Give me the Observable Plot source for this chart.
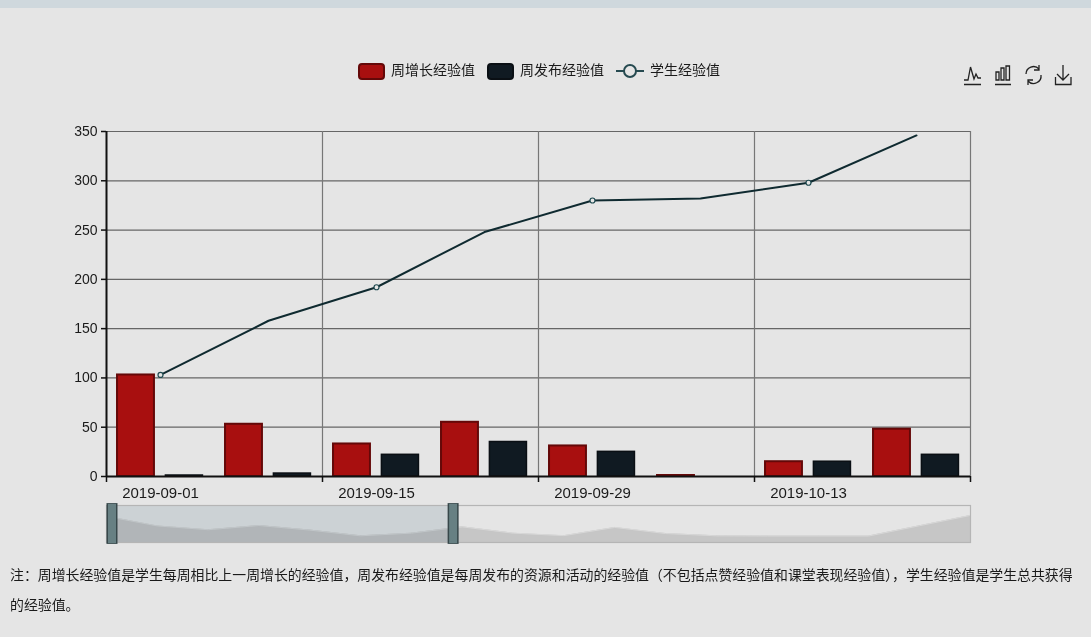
<!DOCTYPE html>
<html><head><meta charset="utf-8">
<script src="https://cdn.jsdelivr.net/npm/d3@7"></script>
<script src="https://cdn.jsdelivr.net/npm/@observablehq/plot@0.6"></script>
<style>
html,body{margin:0;padding:0;background:#e5e5e5;overflow:hidden}
body{width:1091px;height:637px;position:relative;font-family:"Liberation Sans","Noto Sans CJK SC",sans-serif;color:#1a1a1a}
#strip{position:absolute;left:0;top:0;width:1091px;height:8px;background:#cfd8dd}
#main,#slider{position:absolute;left:0}
#main{top:0}#slider{top:500px}
svg{background:transparent!important;display:block}
.lg{position:absolute;top:61px;font-size:14px;line-height:18px;white-space:nowrap}
.sw{position:absolute;top:63px;width:27px;height:17px;border-radius:4px;box-sizing:border-box}
#note{position:absolute;left:10px;top:559px;width:1068px;font-size:13.9px;line-height:30px;font-family:"Noto Sans CJK SC",sans-serif;color:#1a1a1a}
#tools{position:absolute;left:960px;top:60px}
</style></head><body>
<div id="strip"></div>
<div class="sw" style="left:358px;background:#a80f0f;border:2px solid #640808"></div>
<div class="lg" style="left:391px">周增长经验值</div>
<div class="sw" style="left:487px;background:#101a22;border:2px solid #0a0f14"></div>
<div class="lg" style="left:520px">周发布经验值</div>
<svg style="position:absolute;left:614px;top:62px" width="32" height="18"><path d="M2 9H30" stroke="#264a50" stroke-width="2"/><circle cx="16" cy="9" r="6" fill="#e5e5e5" stroke="#264a50" stroke-width="2"/></svg>
<div class="lg" style="left:650px">学生经验值</div>
<svg id="tools" width="116" height="30" fill="none" stroke="#222" stroke-width="1.3">
<path d="M4 24.5H21M4 20H8L10.5 7L14 19L16 14L18 18H21"/>
<path d="M35 24.5H51M36 20V12H39V20ZM41 20V8H44V20ZM46 20V6H49.5V20Z"/>
<path d="M66 14A7.5 7.5 0 0 1 79 9M81 15A7.5 7.5 0 0 1 68 21M79 5V10H74M68 25V20H73"/>
<path d="M103 5V20M97 14L103 20L109 14M95.500 17V24.500H111V17"/>
</svg>
<div id="main"></div>
<div id="slider"></div>
<div id="note">注&#xFF1A;周增长经验值是学生每周相比上一周增长的经验值&#xFF0C;周发布经验值是每周发布的资源和活动的经验值&#xFF08;不包括点赞经验值和课堂表现经验值&#xFF09;&#xFF0C;学生经验值是学生总共获得的经验值&#x3002;</div>
<script>
const weeks = ["2019-09-01","2019-09-08","2019-09-15","2019-09-22","2019-09-29","2019-10-06","2019-10-13","2019-10-20"];
const weeklyGrowth = [103,53,33,55,31,1,15,48];
const weeklyPublished = [1,3,22,35,25,0,15,22];
const studentExp = [103,158,192,248,280,282,298,346];
const yTicks = [0,50,100,150,200,250,300,350];
const bandTicks = [0,2,4,6,8];
const labelledWeeks = [0,2,4,6];
const symbolWeeks = [0,2,4,6];
const overviewValues = [103,53,33,55,31,1,15,48,15,2,45,13,1,0,0,0,54,108];
const selection = [0.108,6.82];

const idx = weeks.map((_, i) => i);
const font = '"Liberation Sans","Noto Sans CJK SC",sans-serif';

const main = Plot.plot({
  width:1091,height:505,marginLeft:106,marginRight:121,marginTop:131,marginBottom:29,
  style:{background:"transparent",fontFamily:font,fontSize:"14px",color:"#1a1a1a"},
  x:{domain:[0,8],axis:null},
  y:{domain:[0,350],axis:null},
  marks:[
    Plot.ruleY(yTicks.slice(1),{stroke:"#666",strokeWidth:1.2}),
    Plot.ruleX(bandTicks.slice(1),{stroke:"#777",strokeWidth:1.2}),
    Plot.rectY(idx,{x1:i=>i+0.102,x2:i=>i+0.444,y1:0,y2:i=>weeklyGrowth[i],fill:"#a80f0f",stroke:"#640808",strokeWidth:2}),
    Plot.rectY(idx,{x1:i=>i+0.55,x2:i=>i+0.893,y1:0,y2:i=>weeklyPublished[i],fill:"#101a22",stroke:"#0a0f14",strokeWidth:1.5}),
    Plot.line(idx,{x:i=>i+0.5,y:i=>studentExp[i],stroke:"#0f2a30",strokeWidth:2}),
    Plot.dot(symbolWeeks,{x:i=>i+0.5,y:i=>studentExp[i],r:2.5,fill:"#e5e5e5",stroke:"#1f4a50",strokeWidth:1.2}),
    Plot.axisY({ticks:yTicks,tickSize:5,tickPadding:4,fontSize:14,stroke:"#111",strokeWidth:1.5,fill:"#1a1a1a",label:null}),
    Plot.ruleX([0],{stroke:"#111",strokeWidth:2}),
    Plot.axisX({ticks:bandTicks,tickSize:6,tickFormat:()=>"",stroke:"#111",strokeWidth:1.5,label:null}),
    Plot.axisX({ticks:labelledWeeks.map(i=>i+0.5),tickSize:0,tickPadding:11,tickFormat:d=>weeks[d-0.5],fontSize:15,fill:"#1a1a1a",label:null}),
    Plot.ruleY([0],{stroke:"#111",strokeWidth:2})
  ]
});
document.getElementById("main").append(main);

const oIdx = overviewValues.map((_, i) => i);
const slider = Plot.plot({
  width:1091,height:46,marginLeft:106,marginRight:121,marginTop:5,marginBottom:4,
  style:{background:"transparent"},
  x:{domain:[0,17],axis:null},
  y:{domain:[-34,160],axis:null},
  marks:[
    Plot.areaY(oIdx,{x:i=>i,y1:-34,y2:i=>overviewValues[i],fill:"#c6c6c6"}),
    Plot.line(oIdx,{x:i=>i,y:i=>overviewValues[i],stroke:"#d8d8d8",strokeWidth:1}),
    Plot.rectY([selection],{x1:d=>d[0],x2:d=>d[1],y1:-34,y2:160,fill:"#e4eaed",mixBlendMode:"multiply"}),
    Plot.frame({stroke:"#b5b5b5",strokeWidth:1.2}),
    Plot.ruleX(selection,{stroke:"#37474a",strokeWidth:11,y1:-44,y2:170}),
    Plot.ruleX(selection,{stroke:"#678083",strokeWidth:8,y1:-40,y2:166})
  ]
});
slider.style.overflow="visible";
document.getElementById("slider").append(slider);
</script>
</body></html>
